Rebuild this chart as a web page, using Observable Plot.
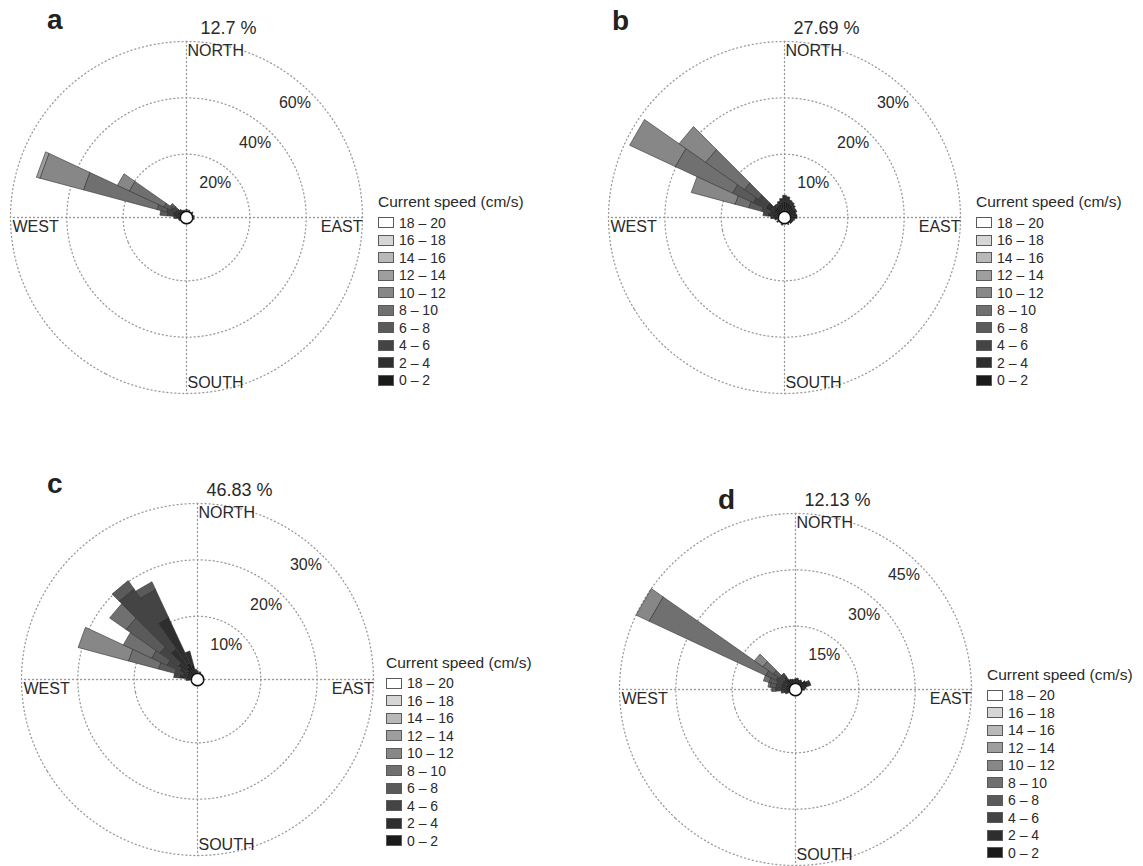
<!DOCTYPE html>
<html>
<head>
<meta charset="utf-8">
<script src="https://cdn.jsdelivr.net/npm/d3@7"></script>
<script src="https://cdn.jsdelivr.net/npm/@observablehq/plot@0.6"></script>
<style>
html, body { margin: 0; padding: 0; background: #fff; }
#page { position: relative; width: 1143px; height: 866px; overflow: hidden;
  font-family: "Liberation Sans", Arial, Helvetica, sans-serif; color: #222; }
.panel { position: absolute; }
.letter { position: absolute; font-weight: bold; font-size: 28px; line-height: 28px; color: #222; }
.legend { position: absolute; color: #2a2a2a; }
.legend .ttl { font-size: 15.5px; line-height: 18px; height: 18px; white-space: nowrap; }
.legend .row { display: flex; align-items: center; height: 17.5px; font-size: 14px; white-space: nowrap; }
.legend .sw { width: 16px; height: 11px; box-sizing: border-box; border: 1px solid #5a5a5a; margin-right: 5px; }
</style>
</head>
<body>
<div id="page"></div>
<script>
// ---------- data ----------
const speedClasses = ["0 – 2", "2 – 4", "4 – 6", "6 – 8", "8 – 10", "10 – 12", "12 – 14", "14 – 16", "16 – 18", "18 – 20"];
const speedColors  = ["#1a1a1a", "#2e2e2e", "#444444", "#5a5a5a", "#707070", "#878787", "#9e9e9e", "#b8b8b8", "#d6d6d6", "#ffffff"];
const legendTitle = "Current speed (cm/s)";
const panelLetters = ["a", "b", "c", "d"];
const calmPercent = ["12.7 %", "27.69 %", "46.83 %", "12.13 %"];
const ringTicks = [[20, 40, 60], [10, 20, 30], [10, 20, 30], [15, 30, 45]];
const compassLabels = ["NORTH", "EAST", "SOUTH", "WEST"];
const compassBearings = [0, 90, 180, 270];
const binWidth = 10; // degrees

// [bearing (deg, clockwise from north), percentages per speed class 0–2, 2–4, ...]
const roseA = [
  [290, [1.0, 1.5, 2.5, 3.5, 27.0, 16.0, 1.2]],
  [300, [0.8, 1.2, 2.0, 2.5, 13.5, 4.6]],
  [280, [0.8, 1.5, 2.2, 2.5]],
  [310, [0.6, 1.0, 1.5, 1.5]],
  [270, [0.5, 0.8, 0.7]],
  [320, [0.5, 0.6]],
  [330, [0.4]], [340, [0.3]], [0, [0.5]], [20, [0.3]], [50, [0.4]],
  [80, [0.3]], [100, [0.3]], [250, [0.3]], [260, [0.4]]
];
const roseB = [
  [300, [1.0, 1.5, 2.5, 4.0, 11.2, 8.9]],
  [310, [1.0, 1.5, 2.0, 3.0, 8.4, 5.7]],
  [290, [0.5, 1.0, 1.5, 2.4, 2.5, 8.0]],
  [280, [0.8, 1.0, 0.8]],
  [270, [0.6, 0.6]],
  [320, [1.0, 0.5]], [330, [1.0, 0.5]], [340, [1.2, 0.6]], [350, [1.4, 0.8]],
  [0, [1.6, 1.1]], [10, [1.5, 1.0]], [20, [1.3, 0.7]], [30, [1.2, 0.6]],
  [40, [1.0, 0.5]], [50, [0.9, 0.3]], [60, [1.0, 0.2]], [70, [0.9]],
  [80, [1.0]], [90, [1.0]], [100, [0.6]], [110, [0.4]], [120, [0.3]],
  [130, [0.3]], [150, [0.2]], [200, [0.2]], [240, [0.3]], [260, [0.5]]
];
const roseC = [
  [290, [0.5, 1.0, 1.5, 3.0, 5.5, 9.2]],
  [300, [0.8, 1.5, 2.5, 3.0, 5.5]],
  [310, [1.0, 2.0, 4.0, 7.3, 3.5]],
  [320, [1.5, 4.0, 13.0, 1.7]],
  [330, [2.0, 9.0, 5.5, 1.4]],
  [340, [1.5, 2.5]],
  [350, [0.6]], [280, [0.8, 1.2, 1.0]], [270, [0.5, 0.3]], [0, [0.3]], [20, [0.2]]
];
const roseD = [
  [300, [0.8, 1.2, 2.0, 3.0, 34.25, 3.75]],
  [310, [0.8, 1.2, 1.5, 2.0, 3.3, 2.7]],
  [320, [1.5, 1.0, 1.0]],
  [290, [0.8, 1.2, 1.5, 2.0, 1.5]],
  [280, [0.8, 1.2, 1.5, 1.5, 0.5]],
  [270, [0.8, 1.2, 1.5, 1.0]],
  [260, [0.6, 0.8, 0.6]],
  [250, [0.5, 0.5]],
  [0, [1.0]], [10, [1.2]], [20, [0.8]], [30, [1.0]], [40, [0.8]], [50, [1.5]],
  [60, [1.8, 0.6]], [70, [1.6, 0.8]], [80, [1.0]], [90, [0.6]],
  [330, [1.2]], [340, [1.0]], [350, [0.8]]
];
const roses = [roseA, roseB, roseC, roseD];

// ---------- layout (positions only) ----------
const layout = [
  {cx: 186, cy: 217, letterX: 47,  letterBase: 29,  legendX: 378, legendTitleY: 202, legendFirstY: 222.7},
  {cx: 784, cy: 217, letterX: 612, letterBase: 30,  legendX: 976, legendTitleY: 202, legendFirstY: 222.7},
  {cx: 197, cy: 679, letterX: 47,  letterBase: 493, legendX: 386, legendTitleY: 663, legendFirstY: 683},
  {cx: 795, cy: 689, letterX: 718, letterBase: 509, legendX: 987, legendTitleY: 675, legendFirstY: 695}
];
const RING_PX = 176, CALM_PX = 7, SVG_W = 400, SVG_H = 420, TOP_M = 39, ROW_H = 17.5;
const gridStyle = {stroke: "#9a9a9a", strokeWidth: 1.3, strokeDasharray: "1,3", strokeLinecap: "round", fill: "none"};
const LABEL_SIZE = 16;

const page = document.getElementById("page");
const lon = (bearing) => 180 - bearing;

function wedgeFeatures(rose, off) {
  const feats = [];
  const hw = binWidth / 2;
  for (const [bearing, stack] of rose) {
    let cum = 0;
    stack.forEach((v, i) => {
      if (!(v > 0)) return;
      const r0 = off + cum, r1 = off + cum + v;
      cum += v;
      const a0 = lon(bearing - hw), a1 = lon(bearing + hw);
      const ring = [[a0, 90 - r0], [a0, 90 - r1], [a1, 90 - r1], [a1, 90 - r0], [a0, 90 - r0]];
      let geom = {type: "Polygon", coordinates: [ring]};
      if (d3.geoArea(geom) > 2 * Math.PI) geom = {type: "Polygon", coordinates: [ring.slice().reverse()]};
      feats.push({type: "Feature", geometry: geom, properties: {cls: speedClasses[i]}});
    });
  }
  return feats;
}

roses.forEach((rose, p) => {
  const L = layout[p];
  const ticks = ringTicks[p];
  const max = ticks[ticks.length - 1];
  const k = (RING_PX - CALM_PX) / max;   // px per percent
  const off = CALM_PX / k;                // calm radius in data units
  const R = off + max;
  const latR = 90 - R;
  const compass = compassLabels.map((label, i) => ({label, bearing: compassBearings[i]}));
  const crossLines = [
    {type: "LineString", coordinates: [[lon(0), latR], [lon(180), latR]]},
    {type: "LineString", coordinates: [[lon(90), latR], [lon(270), latR]]}
  ];
  const compassMark = (label, opts) => Plot.text(compass.filter(d => d.label === label), {
    x: d => lon(d.bearing), y: () => latR, text: "label", fontSize: LABEL_SIZE, ...opts
  });

  const svg = Plot.plot({
    width: SVG_W,
    height: SVG_H,
    marginLeft: SVG_W / 2 - RING_PX,
    marginRight: SVG_W / 2 - RING_PX,
    marginTop: TOP_M,
    marginBottom: SVG_H - TOP_M - 2 * RING_PX,
    projection: {
      type: "azimuthal-equidistant",
      rotate: [0, -90],
      clip: false,
      domain: d3.geoCircle().center([0, 90]).radius(R).precision(1)()
    },
    color: {type: "ordinal", domain: speedClasses, range: speedColors},
    style: {background: "transparent", overflow: "visible", fontFamily: "Liberation Sans, Arial, Helvetica, sans-serif", color: "#2a2a2a"},
    marks: [
      Plot.geo(ticks, {geometry: t => d3.geoCircle().center([0, 90]).radius(off + t).precision(1)(), ...gridStyle}),
      Plot.geo(crossLines, gridStyle),
      Plot.text(ticks, {x: lon(45), y: t => 90 - (off + t), text: t => `${t}%`, textAnchor: "end", dy: 10, fontSize: LABEL_SIZE}),
      compassMark("NORTH", {textAnchor: "start", dx: 1, dy: 9}),
      compassMark("SOUTH", {textAnchor: "start", dx: 1, dy: -11}),
      compassMark("WEST", {textAnchor: "start", dx: 2, dy: 9}),
      compassMark("EAST", {textAnchor: "end", dx: 0, dy: 9}),
      Plot.geo(wedgeFeatures(rose, off), {fill: d => d.properties.cls, stroke: "#333", strokeWidth: 0.6}),
      Plot.geo([off * 0.88], {geometry: r => d3.geoCircle().center([0, 90]).radius(r).precision(2)(), fill: "white", stroke: "#111", strokeWidth: 1.7}),
      Plot.text([calmPercent[p]], {x: () => lon(0), y: () => latR, text: d => d, dx: 42, dy: -13, fontSize: 18})
    ]
  });
  const holder = document.createElement("div");
  holder.className = "panel";
  holder.style.left = (L.cx - SVG_W / 2) + "px";
  holder.style.top = (L.cy - RING_PX - TOP_M) + "px";
  holder.style.width = SVG_W + "px";
  holder.style.height = SVG_H + "px";
  holder.appendChild(svg);
  page.appendChild(holder);

  // panel letter
  const letter = document.createElement("div");
  letter.className = "letter";
  letter.textContent = panelLetters[p];
  letter.style.left = L.letterX + "px";
  letter.style.top = (L.letterBase - 23) + "px";
  page.appendChild(letter);

  // legend
  const lg = document.createElement("div");
  lg.className = "legend";
  lg.style.left = L.legendX + "px";
  lg.style.top = (L.legendTitleY - 9) + "px";
  const ttl = document.createElement("div");
  ttl.className = "ttl";
  ttl.textContent = legendTitle;
  ttl.style.marginBottom = (L.legendFirstY - L.legendTitleY - 9 - ROW_H / 2) + "px";
  lg.appendChild(ttl);
  for (let i = speedClasses.length - 1; i >= 0; i--) {
    const row = document.createElement("div");
    row.className = "row";
    const sw = document.createElement("span");
    sw.className = "sw";
    sw.style.background = speedColors[i];
    const tx = document.createElement("span");
    tx.textContent = speedClasses[i];
    row.appendChild(sw);
    row.appendChild(tx);
    lg.appendChild(row);
  }
  page.appendChild(lg);
});
</script>
</body>
</html>
